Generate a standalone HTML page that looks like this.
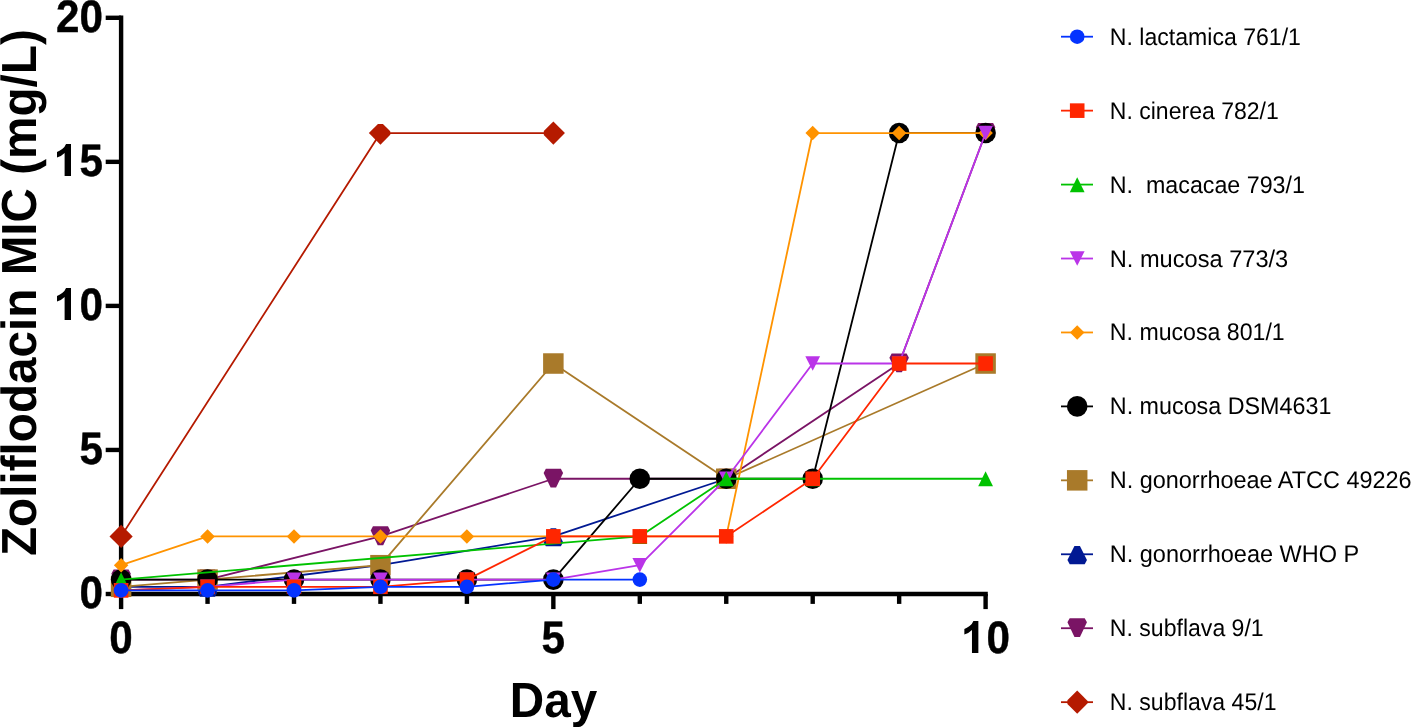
<!DOCTYPE html>
<html><head><meta charset="utf-8"><title>Zoliflodacin MIC</title>
<style>
html,body{margin:0;padding:0;background:#fff;}
body{width:1411px;height:727px;overflow:hidden;}
svg{display:block;will-change:transform;}
text{font-family:"Liberation Sans",sans-serif;fill:#000;text-rendering:geometricPrecision;}
.tk{font-weight:bold;font-size:45.4px;stroke:#000;stroke-width:0.45px;stroke-linejoin:round;}
.ti{font-weight:bold;font-size:49.3px;}
.lg{font-size:24.1px;}
</style></head><body>
<svg width="1411" height="727" viewBox="0 0 1411 727">
<rect width="1411" height="727" fill="#fff"/>

<g stroke="#000" stroke-width="4.4" fill="none" stroke-linecap="butt">
<path d="M121.1 15.6 V596.2"/>
<path d="M118.9 594 H987.8"/>
<path d="M105.7 594 H121.1"/>
<path d="M105.7 449.95 H121.1"/>
<path d="M105.7 305.9 H121.1"/>
<path d="M105.7 161.85 H121.1"/>
<path d="M105.7 17.8 H121.1"/>
<path d="M121.1 594 V609.1"/>
<path d="M207.55 594 V603.9"/>
<path d="M294 594 V603.9"/>
<path d="M380.45 594 V603.9"/>
<path d="M466.9 594 V603.9"/>
<path d="M553.35 594 V609.1"/>
<path d="M639.8 594 V603.9"/>
<path d="M726.25 594 V603.9"/>
<path d="M812.7 594 V603.9"/>
<path d="M899.15 594 V603.9"/>
<path d="M985.6 594 V609.1"/>
</g>
<text class="tk" transform="translate(103.0 608) scale(0.93 1)" text-anchor="end">0</text>
<text class="tk" transform="translate(103.0 464) scale(0.93 1)" text-anchor="end">5</text>
<path fill="#000" d="M71,320 L64.61,320 L64.61,296.98 Q61.54,300.11 57,301.61 L57,296.07 Q59.39,295.28 62.2,293.1 Q65,290.91 66.04,288 L71,288 Z"/>
<text class="tk" transform="translate(103.0 320) scale(0.93 1)" text-anchor="end">0</text>
<path fill="#000" d="M71,176 L64.61,176 L64.61,152.98 Q61.54,156.11 57,157.61 L57,152.07 Q59.39,151.28 62.2,149.1 Q65,146.91 66.04,144 L71,144 Z"/>
<text class="tk" transform="translate(103.0 176) scale(0.93 1)" text-anchor="end">5</text>
<text class="tk" transform="translate(103.0 32) scale(0.93 1)" text-anchor="end">20</text>
<text class="tk" transform="translate(121.1 653) scale(0.93 1)" text-anchor="middle">0</text>
<text class="tk" transform="translate(553.35 653) scale(0.93 1)" text-anchor="middle">5</text>
<path fill="#000" d="M978.36,653 L971.97,653 L971.97,629.98 Q968.9,633.11 964.36,634.61 L964.36,629.07 Q966.75,628.28 969.56,626.1 Q972.36,623.91 973.4,621 L978.36,621 Z"/>
<text class="tk" transform="translate(986.6 653) scale(0.93 1)" text-anchor="start">0</text>
<text class="ti" transform="translate(509.71 717) scale(0.9667 1)" text-anchor="start">Day</text>
<text class="ti" transform="translate(35.9 292.6) rotate(-90) scale(0.9667 1)" text-anchor="middle">Zoliflodacin MIC (mg/L)</text>
<polyline points="121.1,536.38 380.45,133.04 553.35,133.04" fill="none" stroke="#B51A00" stroke-width="1.8" stroke-linejoin="round"/>
<polygon points="121.1,524.78 132.7,536.38 121.1,547.98 109.5,536.38" fill="#B51A00"/>
<polygon points="377.95,123.94 382.95,123.94 390.25,131.24 390.25,134.84 380.45,144.64 368.85,133.04" fill="#B51A00"/>
<polygon points="553.35,121.44 564.95,133.04 553.35,144.64 543.8,135.09 543.8,130.99" fill="#B51A00"/>
<polyline points="121.1,579.6 207.55,579.6 380.45,536.38 553.35,478.76 726.25,478.76 899.15,363.52 985.6,133.04" fill="none" stroke="#7A1465" stroke-width="1.8" stroke-linejoin="round"/>
<polygon points="118.35,588.39 123.85,588.39 130.85,573.75 128.6,569.55 113.6,569.55 111.35,573.75" fill="#7A1465"/>
<polygon points="204.8,588.39 210.3,588.39 217.3,573.75 215.05,569.55 200.05,569.55 197.8,573.75" fill="#7A1465"/>
<polygon points="377.7,545.18 383.2,545.18 390.2,530.53 387.95,526.33 372.95,526.33 370.7,530.53" fill="#7A1465"/>
<polygon points="550.6,487.56 556.1,487.56 563.1,472.91 560.85,468.71 545.85,468.71 543.6,472.91" fill="#7A1465"/>
<polygon points="723.5,487.56 729,487.56 736,472.91 733.75,468.71 718.75,468.71 716.5,472.91" fill="#7A1465"/>
<polygon points="896.4,372.32 901.9,372.32 908.9,357.67 906.65,353.47 891.65,353.47 889.4,357.67" fill="#7A1465"/>
<polygon points="982.85,141.84 988.35,141.84 995.35,127.19 993.1,122.99 978.1,122.99 975.85,127.19" fill="#7A1465"/>
<polyline points="121.1,586.8 207.55,586.8 380.45,565.19 553.35,536.38 726.25,478.76" fill="none" stroke="#011993" stroke-width="1.8" stroke-linejoin="round"/>
<polygon points="118.35,578.55 123.85,578.55 130.85,592.55 128.6,596.75 113.6,596.75 111.35,592.55" fill="#011993"/>
<polygon points="204.8,578.55 210.3,578.55 217.3,592.55 215.05,596.75 200.05,596.75 197.8,592.55" fill="#011993"/>
<polygon points="377.7,556.94 383.2,556.94 390.2,570.94 387.95,575.14 372.95,575.14 370.7,570.94" fill="#011993"/>
<polygon points="550.6,528.13 556.1,528.13 563.1,542.13 560.85,546.33 545.85,546.33 543.6,542.13" fill="#011993"/>
<polygon points="723.5,470.51 729,470.51 736,484.51 733.75,488.71 718.75,488.71 716.5,484.51" fill="#011993"/>
<polyline points="121.1,586.8 207.55,579.6 380.45,565.19 553.35,363.52 726.25,478.76 985.6,363.52" fill="none" stroke="#A97A2A" stroke-width="1.8" stroke-linejoin="round"/>
<rect x="110.85" y="576.55" width="20.5" height="20.5" fill="#A97A2A"/>
<rect x="197.3" y="569.35" width="20.5" height="20.5" fill="#A97A2A"/>
<rect x="370.2" y="554.94" width="20.5" height="20.5" fill="#A97A2A"/>
<rect x="543.1" y="353.27" width="20.5" height="20.5" fill="#A97A2A"/>
<rect x="716" y="468.51" width="20.5" height="20.5" fill="#A97A2A"/>
<rect x="975.35" y="353.27" width="20.5" height="20.5" fill="#A97A2A"/>
<polyline points="121.1,579.6 207.55,579.6 294,579.6 380.45,579.6 466.9,579.6 553.35,579.6 639.8,478.76 726.25,478.76 812.7,478.76 899.15,133.04 985.6,133.04" fill="none" stroke="#000000" stroke-width="1.8" stroke-linejoin="round"/>
<circle cx="121.1" cy="579.6" r="10.3" fill="#000000"/>
<circle cx="207.55" cy="579.6" r="10.3" fill="#000000"/>
<circle cx="294" cy="579.6" r="10.3" fill="#000000"/>
<circle cx="380.45" cy="579.6" r="10.3" fill="#000000"/>
<circle cx="466.9" cy="579.6" r="10.3" fill="#000000"/>
<circle cx="553.35" cy="579.6" r="10.3" fill="#000000"/>
<circle cx="639.8" cy="478.76" r="10.3" fill="#000000"/>
<circle cx="726.25" cy="478.76" r="10.3" fill="#000000"/>
<circle cx="812.7" cy="478.76" r="10.3" fill="#000000"/>
<circle cx="899.15" cy="133.04" r="10.3" fill="#000000"/>
<circle cx="985.6" cy="133.04" r="10.3" fill="#000000"/>
<polyline points="121.1,565.19 207.55,536.38 294,536.38 380.45,536.38 466.9,536.38 553.35,536.38 639.8,536.38 726.25,536.38 812.7,133.04 899.15,133.04 985.6,133.04" fill="none" stroke="#FF9300" stroke-width="1.8" stroke-linejoin="round"/>
<polygon points="121.1,557.94 128.35,565.19 121.1,572.44 113.85,565.19" fill="#FF9300"/>
<polygon points="207.55,529.13 214.8,536.38 207.55,543.63 200.3,536.38" fill="#FF9300"/>
<polygon points="294,529.13 301.25,536.38 294,543.63 286.75,536.38" fill="#FF9300"/>
<polygon points="380.45,529.13 387.7,536.38 380.45,543.63 373.2,536.38" fill="#FF9300"/>
<polygon points="466.9,529.13 474.15,536.38 466.9,543.63 459.65,536.38" fill="#FF9300"/>
<polygon points="553.35,529.13 560.6,536.38 553.35,543.63 546.1,536.38" fill="#FF9300"/>
<polygon points="639.8,529.13 647.05,536.38 639.8,543.63 632.55,536.38" fill="#FF9300"/>
<polygon points="726.25,529.13 733.5,536.38 726.25,543.63 719,536.38" fill="#FF9300"/>
<polygon points="812.7,125.79 819.95,133.04 812.7,140.29 805.45,133.04" fill="#FF9300"/>
<polygon points="899.15,125.79 906.4,133.04 899.15,140.29 891.9,133.04" fill="#FF9300"/>
<polygon points="985.6,125.79 992.85,133.04 985.6,140.29 978.35,133.04" fill="#FF9300"/>
<polyline points="121.1,590.4 207.55,586.8 294,579.6 380.45,579.6 466.9,579.6 553.35,579.6 639.8,565.19 726.25,478.76 812.7,363.52 899.15,363.52 985.6,133.04" fill="none" stroke="#BA34E8" stroke-width="1.8" stroke-linejoin="round"/>
<polygon points="121.1,597.7 128.5,583.2 113.7,583.2" fill="#BA34E8"/>
<polygon points="207.55,594.1 214.95,579.6 200.15,579.6" fill="#BA34E8"/>
<polygon points="294,586.89 301.4,572.39 286.6,572.39" fill="#BA34E8"/>
<polygon points="380.45,586.89 387.85,572.39 373.05,572.39" fill="#BA34E8"/>
<polygon points="466.9,586.89 474.3,572.39 459.5,572.39" fill="#BA34E8"/>
<polygon points="553.35,586.89 560.75,572.39 545.95,572.39" fill="#BA34E8"/>
<polygon points="639.8,572.49 647.2,557.99 632.4,557.99" fill="#BA34E8"/>
<polygon points="726.25,486.06 733.65,471.56 718.85,471.56" fill="#BA34E8"/>
<polygon points="812.7,370.82 820.1,356.32 805.3,356.32" fill="#BA34E8"/>
<polygon points="899.15,370.82 906.55,356.32 891.75,356.32" fill="#BA34E8"/>
<polygon points="985.6,140.34 993,125.84 978.2,125.84" fill="#BA34E8"/>
<polyline points="121.1,579.6 639.8,536.38 726.25,478.76 812.7,478.76 985.6,478.76" fill="none" stroke="#00C200" stroke-width="1.8" stroke-linejoin="round"/>
<polygon points="121.1,572.14 128.5,587.14 113.7,587.14" fill="#00C200"/>
<polygon points="639.8,528.93 647.2,543.93 632.4,543.93" fill="#00C200"/>
<polygon points="726.25,471.31 733.65,486.31 718.85,486.31" fill="#00C200"/>
<polygon points="812.7,471.31 820.1,486.31 805.3,486.31" fill="#00C200"/>
<polygon points="985.6,471.31 993,486.31 978.2,486.31" fill="#00C200"/>
<polyline points="121.1,590.4 207.55,586.8 294,586.8 380.45,586.8 466.9,579.6 553.35,536.38 639.8,536.38 726.25,536.38 812.7,478.76 899.15,363.52 985.6,363.52" fill="none" stroke="#FF2600" stroke-width="1.8" stroke-linejoin="round"/>
<rect x="113.8" y="583.1" width="14.6" height="14.6" fill="#FF2600"/>
<rect x="200.25" y="579.5" width="14.6" height="14.6" fill="#FF2600"/>
<rect x="286.7" y="579.5" width="14.6" height="14.6" fill="#FF2600"/>
<rect x="373.15" y="579.5" width="14.6" height="14.6" fill="#FF2600"/>
<rect x="459.6" y="572.3" width="14.6" height="14.6" fill="#FF2600"/>
<rect x="546.05" y="529.08" width="14.6" height="14.6" fill="#FF2600"/>
<rect x="632.5" y="529.08" width="14.6" height="14.6" fill="#FF2600"/>
<rect x="718.95" y="529.08" width="14.6" height="14.6" fill="#FF2600"/>
<rect x="805.4" y="471.46" width="14.6" height="14.6" fill="#FF2600"/>
<rect x="891.85" y="356.22" width="14.6" height="14.6" fill="#FF2600"/>
<rect x="978.3" y="356.22" width="14.6" height="14.6" fill="#FF2600"/>
<polyline points="121.1,590.4 207.55,590.4 294,590.4 380.45,586.8 466.9,586.8 553.35,579.6 639.8,579.6" fill="none" stroke="#0433FF" stroke-width="1.8" stroke-linejoin="round"/>
<circle cx="121.1" cy="590.4" r="7.3" fill="#0433FF"/>
<circle cx="207.55" cy="590.4" r="7.3" fill="#0433FF"/>
<circle cx="294" cy="590.4" r="7.3" fill="#0433FF"/>
<circle cx="380.45" cy="586.8" r="7.3" fill="#0433FF"/>
<circle cx="466.9" cy="586.8" r="7.3" fill="#0433FF"/>
<circle cx="553.35" cy="579.6" r="7.3" fill="#0433FF"/>
<circle cx="639.8" cy="579.6" r="7.3" fill="#0433FF"/>
<path d="M1061 36.7 H1093" stroke="#0433FF" stroke-width="1.8"/>
<circle cx="1077.2" cy="36.7" r="7.3" fill="#0433FF"/>
<text class="lg" transform="translate(1109.81 45) scale(0.9578 1)" xml:space="preserve">N. lactamica 761/1</text>
<path d="M1061 110.64 H1093" stroke="#FF2600" stroke-width="1.8"/>
<rect x="1069.9" y="103.34" width="14.6" height="14.6" fill="#FF2600"/>
<text class="lg" transform="translate(1109.82 119) scale(0.9554 1)" xml:space="preserve">N. cinerea 782/1</text>
<path d="M1061 184.58 H1093" stroke="#00C200" stroke-width="1.8"/>
<polygon points="1077.2,177.13 1084.6,192.13 1069.8,192.13" fill="#00C200"/>
<text class="lg" transform="translate(1109.8 193) scale(0.9648 1)" xml:space="preserve">N.  macacae 793/1</text>
<path d="M1061 258.52 H1093" stroke="#BA34E8" stroke-width="1.8"/>
<polygon points="1077.2,265.82 1084.6,251.32 1069.8,251.32" fill="#BA34E8"/>
<text class="lg" transform="translate(1109.77 267) scale(0.9798 1)" xml:space="preserve">N. mucosa 773/3</text>
<path d="M1061 332.46 H1093" stroke="#FF9300" stroke-width="1.8"/>
<polygon points="1077.2,325.21 1084.45,332.46 1077.2,339.71 1069.95,332.46" fill="#FF9300"/>
<text class="lg" transform="translate(1109.81 340) scale(0.9604 1)" xml:space="preserve">N. mucosa 801/1</text>
<path d="M1061 406.4 H1093" stroke="#000000" stroke-width="1.8"/>
<circle cx="1077.2" cy="406.4" r="10.3" fill="#000000"/>
<text class="lg" transform="translate(1109.79 414) scale(0.9679 1)" xml:space="preserve">N. mucosa DSM4631</text>
<path d="M1061 480.34 H1093" stroke="#A97A2A" stroke-width="1.8"/>
<rect x="1066.95" y="470.09" width="20.5" height="20.5" fill="#A97A2A"/>
<text class="lg" transform="translate(1109.79 488) scale(0.9725 1)" xml:space="preserve">N. gonorrhoeae ATCC 49226</text>
<path d="M1061 554.28 H1093" stroke="#011993" stroke-width="1.8"/>
<polygon points="1074.45,546.03 1079.95,546.03 1086.95,560.03 1084.7,564.23 1069.7,564.23 1067.45,560.03" fill="#011993"/>
<text class="lg" transform="translate(1109.78 562) scale(0.9751 1)" xml:space="preserve">N. gonorrhoeae WHO P</text>
<path d="M1061 628.22 H1093" stroke="#7A1465" stroke-width="1.8"/>
<polygon points="1074.45,637.02 1079.95,637.02 1086.95,622.37 1084.7,618.17 1069.7,618.17 1067.45,622.37" fill="#7A1465"/>
<text class="lg" transform="translate(1109.81 636) scale(0.9575 1)" xml:space="preserve">N. subflava 9/1</text>
<path d="M1061 702.16 H1093" stroke="#B51A00" stroke-width="1.8"/>
<polygon points="1077.2,690.56 1087.9,701.26 1087.9,703.06 1077.2,713.76 1067.4,703.96 1067.4,700.36" fill="#B51A00"/>
<text class="lg" transform="translate(1109.82 710) scale(0.9573 1)" xml:space="preserve">N. subflava 45/1</text>
</svg></body></html>
